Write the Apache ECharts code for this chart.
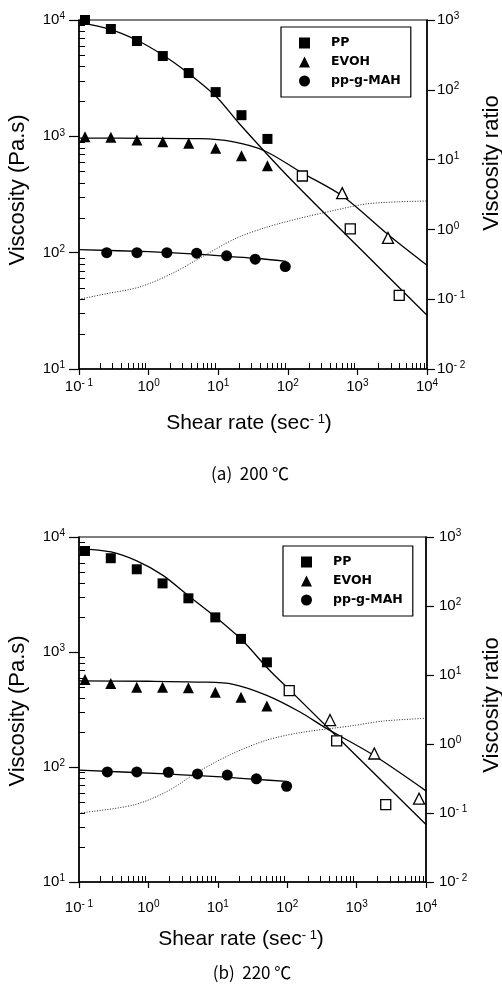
<!DOCTYPE html>
<html>
<head>
<meta charset="utf-8">
<script src="https://cdn.jsdelivr.net/npm/echarts@6/dist/echarts.min.js"></script>
<style>
  html, body { margin: 0; padding: 0; background: #fff; }
  #chart { width: 502px; height: 984px; }
</style>
</head>
<body>
<div id="chart"></div>
<script>
// tick values
var xMajor = [0.1, 1, 10, 100, 1000, 10000];
var yMajor = [10, 100, 1000, 10000];
var ratioMajor = [0.01, 0.1, 1, 10, 100, 1000];

// (a) 200 ℃  -- shear rate (1/s), viscosity (Pa.s)
var rateA = [0.122, 0.287, 0.68, 1.6, 3.77, 9.2, 21.6, 51];
var ppA = [10000, 8370, 6600, 4900, 3500, 2400, 1520, 950];
var evohA = [994, 980, 929, 899, 871, 789, 681, 558];
var ppOpenRateA = [162, 790, 3990];
var ppOpenA = [456, 160, 43];
var evohOpenRateA = [605, 2750];
var evohOpenA = [325, 134];
var mahRateA = [0.094, 0.25, 0.68, 1.83, 4.9, 13.2, 34, 92];
var mahA = [102, 100, 100, 100, 99, 94, 88, 76];
var ppFitRateA = [0.1, 0.28, 0.67, 1.6, 3.5, 9.4, 20, 100, 1000, 10000];
var ppFitA = [9480, 8320, 6730, 5000, 3590, 2190, 1290, 454, 114, 29];
var evohFitRateA = [0.1, 1, 5.4, 16, 46, 163, 610, 2800, 10000];
var evohFitA = [965, 962, 955, 900, 752, 483, 307, 142, 78];
var mahFitRateA = [0.1, 1, 5, 13, 35, 95];
var mahFitA = [106, 102, 97, 93, 89.5, 84];
var ratioRateA = [0.1, 0.25, 0.75, 2.2, 6, 18, 49, 147, 440, 1320, 4000, 10000];
var ratioA = [0.1, 0.12, 0.15, 0.235, 0.41, 0.745, 1.07, 1.44, 1.85, 2.31, 2.49, 2.55];

// (b) 220 ℃
var rateB = [0.122, 0.287, 0.68, 1.6, 3.77, 9.2, 21.6, 51];
var ppB = [7560, 6540, 5240, 3950, 2930, 2000, 1300, 813];
var evohB = [578, 533, 493, 493, 490, 447, 404, 339];
var ppOpenRateB = [107, 516, 2630];
var ppOpenB = [461, 169, 47];
var evohOpenRateB = [414, 1800, 7950];
var evohOpenB = [256, 131, 53];
var mahRateB = [0.096, 0.256, 0.68, 1.94, 5.1, 13.7, 36, 98];
var mahB = [90, 90.6, 90.6, 90, 87, 85, 79, 68];
var ppFitRateB = [0.1, 0.29, 0.68, 1.62, 3.85, 9.3, 22.5, 53, 110, 10000];
var ppFitB = [7930, 7410, 6190, 4640, 3050, 2010, 1264, 716, 464, 31.6];
var evohFitRateB = [0.1, 1, 5.55, 16.7, 50.7, 153, 351, 1742, 10000];
var evohFitB = [560, 557, 548, 524, 420, 301, 220, 127, 62];
var mahFitRateB = [0.1, 1.8, 5.2, 13, 36, 98];
var mahFitB = [94, 87, 84, 81.5, 78, 75];
var ratioRateB = [0.1, 0.6, 1.84, 5.5, 16.7, 51, 153, 800, 2430, 10000];
var ratioB = [0.1, 0.13, 0.204, 0.41, 0.733, 1.14, 1.46, 1.82, 2.15, 2.36];

var FONT = 'Liberation Sans';

// 2..9 of each decade, for the small inner ticks
function minorVals(lo, hi) {
  var out = [];
  for (var e = lo; e < hi; e++) {
    for (var m = 2; m <= 9; m++) out.push(m * Math.pow(10, e));
  }
  return out;
}

function pair(xs, ys) {
  return xs.map(function (x, i) { return [x, ys[i]]; });
}

var powRich = {
  b: { fontFamily: FONT, fontSize: 15, lineHeight: 17, color: '#000' },
  s: { fontFamily: FONT, fontSize: 10, lineHeight: 10, verticalAlign: 'top', color: '#000' }
};
function powLabel(v) {
  var e = Math.round(Math.log10(v));
  return '{b|10}{s|' + (e < 0 ? '- ' + (-e) : e) + '}';
}

function xMain(g, margin) {
  return {
    type: 'log', logBase: 10, gridIndex: g, min: 0.1, max: 10000, position: 'bottom',
    axisLine: { show: true, onZero: false, lineStyle: { color: '#000', width: 1.5 } },
    axisTick: { show: true, inside: false, length: 6, customValues: xMajor, lineStyle: { color: '#000', width: 1.2 } },
    axisLabel: { customValues: xMajor, formatter: powLabel, rich: powRich, margin: margin },
    splitLine: { show: false }
  };
}
function yMain(g) {
  return {
    type: 'log', logBase: 10, gridIndex: g, min: 10, max: 10000, position: 'left',
    axisLine: { show: true, onZero: false, lineStyle: { color: '#000', width: 1.5 } },
    axisTick: { show: true, inside: false, length: 10, customValues: yMajor, lineStyle: { color: '#000', width: 1.2 } },
    axisLabel: { customValues: yMajor, formatter: powLabel, rich: powRich, margin: 14 },
    splitLine: { show: false }
  };
}
function yRatio(g, margin) {
  return {
    type: 'log', logBase: 10, gridIndex: g, min: 0.01, max: 1000, position: 'right',
    axisLine: { show: true, onZero: false, lineStyle: { color: '#000', width: 1.5 } },
    axisTick: { show: true, inside: false, length: 8, customValues: ratioMajor, lineStyle: { color: '#000', width: 1.2 } },
    axisLabel: { customValues: ratioMajor, formatter: powLabel, rich: powRich, margin: margin },
    splitLine: { show: false }
  };
}

function marks(name, xi, yi, data, symbol, size, open) {
  return {
    name: name, type: 'scatter', xAxisIndex: xi, yAxisIndex: yi, z: 4,
    symbol: symbol, symbolSize: size, data: data,
    itemStyle: open ? { color: '#fff', borderColor: '#000', borderWidth: 1.3, opacity: 1 } : { color: '#000', opacity: 1 }
  };
}
function fit(name, xi, yi, data, dotted) {
  return {
    name: name, type: 'line', xAxisIndex: xi, yAxisIndex: yi, z: 3,
    data: data, showSymbol: false, smooth: 0.3,
    lineStyle: dotted ? { color: '#222', width: 1, type: [1, 1.6] } : { color: '#000', width: 1.3 }
  };
}

function panelSeries(xi, yi, yr, d) {
  return [
    fit(d.tag + 'pp fit', xi, yi, pair(d.ppFitRate, d.ppFit)),
    fit(d.tag + 'evoh fit', xi, yi, pair(d.evohFitRate, d.evohFit)),
    fit(d.tag + 'mah fit', xi, yi, pair(d.mahFitRate, d.mahFit)),
    fit(d.tag + 'ratio', xi, yr, pair(d.ratioRate, d.ratio), true),
    marks('PP', xi, yi, pair(d.rate, d.pp), 'rect', 10),
    marks(d.tag + 'pp open', xi, yi, pair(d.ppOpenRate, d.ppOpen), 'rect', 10, true),
    marks('EVOH', xi, yi, pair(d.rate, d.evoh), 'triangle', 11),
    marks(d.tag + 'evoh open', xi, yi, pair(d.evohOpenRate, d.evohOpen), 'triangle', 11, true),
    marks('pp-g-MAH', xi, yi, pair(d.mahRate, d.mah), 'circle', 11)
  ];
}

function legendAt(left, top) {
  return {
    left: left, top: top, orient: 'vertical', selectedMode: false,
    backgroundColor: '#fff', borderColor: '#000', borderWidth: 1.2,
    padding: [9, 10, 9, 18], itemGap: 5, itemWidth: 11, itemHeight: 11,
    textStyle: { fontFamily: 'DejaVu Sans', fontWeight: 'bold', fontSize: 12.5, lineHeight: 14, color: '#000', padding: [0, 0, 0, 16] },
    data: [
      { name: 'PP', icon: 'rect' },
      { name: 'EVOH', icon: 'triangle' },
      { name: 'pp-g-MAH', icon: 'circle' }
    ]
  };
}

function txt(x, y, text, size, rotate, family) {
  return {
    type: 'text', x: x, y: y, rotation: rotate ? Math.PI / 2 : 0, silent: true,
    style: {
      text: text, fontFamily: family || FONT, fontSize: size, fill: '#000',
      align: 'center', verticalAlign: 'middle', textAlign: 'center', textVerticalAlign: 'middle',
      rich: { s: { fontFamily: FONT, fontSize: 13, lineHeight: 13, verticalAlign: 'top', fill: '#000' } }
    }
  };
}

var texts = [
  txt(18, 190, 'Viscosity (Pa.s)', 22, true),
  txt(492, 163, 'Viscosity ratio', 22, true),
  txt(249, 423, 'Shear rate (sec{s|- 1})', 21),
  txt(250, 474, '(a)  200 ℃', 17, false, 'Noto Sans CJK KR'),
  txt(18, 711, 'Viscosity (Pa.s)', 22, true),
  txt(492, 705, 'Viscosity ratio', 22, true),
  txt(241, 939, 'Shear rate (sec{s|- 1})', 21),
  txt(252, 973, '(b)  220 ℃', 17, false, 'Noto Sans CJK KR')
];

var chart = echarts.init(document.getElementById('chart'));
var option = {
  animation: false,
  backgroundColor: '#fff',
  grid: [
    { left: 79, top: 20, width: 348, height: 349, show: true, borderColor: '#000', borderWidth: 1.2 },
    { left: 79, top: 537, width: 347, height: 345, show: true, borderColor: '#000', borderWidth: 1.2 }
  ],
  xAxis: [xMain(0, 9), xMain(1, 17)],
  yAxis: [yMain(0), yRatio(0, 10), yMain(1), yRatio(1, 13)],
  legend: [legendAt(281, 27), legendAt(283, 546)],
  graphic: texts,
  series: [].concat(
    panelSeries(0, 0, 1, {
      tag: 'a ', rate: rateA, pp: ppA, evoh: evohA,
      ppOpenRate: ppOpenRateA, ppOpen: ppOpenA, evohOpenRate: evohOpenRateA, evohOpen: evohOpenA,
      mahRate: mahRateA, mah: mahA,
      ppFitRate: ppFitRateA, ppFit: ppFitA, evohFitRate: evohFitRateA, evohFit: evohFitA,
      mahFitRate: mahFitRateA, mahFit: mahFitA, ratioRate: ratioRateA, ratio: ratioA
    }),
    panelSeries(1, 2, 3, {
      tag: 'b ', rate: rateB, pp: ppB, evoh: evohB,
      ppOpenRate: ppOpenRateB, ppOpen: ppOpenB, evohOpenRate: evohOpenRateB, evohOpen: evohOpenB,
      mahRate: mahRateB, mah: mahB,
      ppFitRate: ppFitRateB, ppFit: ppFitB, evohFitRate: evohFitRateB, evohFit: evohFitB,
      mahFitRate: mahFitRateB, mahFit: mahFitB, ratioRate: ratioRateB, ratio: ratioB
    })
  )
};
chart.setOption(option);

// small inner ticks at 2..9 of every decade, placed through the axes' own scales
var ticks = [];
[[0, 0], [1, 2]].forEach(function (p) {
  var xi = p[0], yi = p[1];
  var left = chart.convertToPixel({ xAxisIndex: xi }, 0.1);
  var bottom = chart.convertToPixel({ yAxisIndex: yi }, 10);
  minorVals(-1, 4).forEach(function (v) {
    var x = Math.round(chart.convertToPixel({ xAxisIndex: xi }, v)) + 0.5;
    ticks.push({ type: 'line', silent: true, shape: { x1: x, y1: bottom, x2: x, y2: bottom - 6 }, style: { stroke: '#000', lineWidth: 1 } });
  });
  minorVals(1, 4).forEach(function (v) {
    var y = Math.round(chart.convertToPixel({ yAxisIndex: yi }, v)) + 0.5;
    ticks.push({ type: 'line', silent: true, shape: { x1: left, y1: y, x2: left + 6, y2: y }, style: { stroke: '#000', lineWidth: 1 } });
  });
});
chart.setOption({ graphic: texts.concat(ticks) });
</script>
</body>
</html>
